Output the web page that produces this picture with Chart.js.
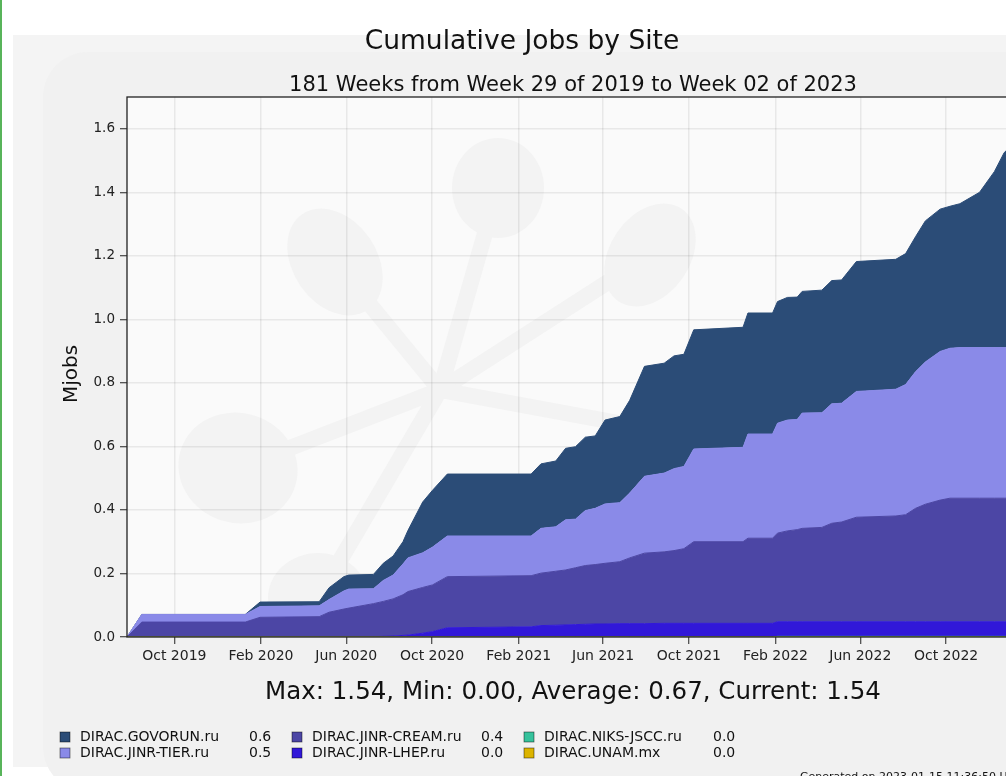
<!DOCTYPE html>
<html>
<head>
<meta charset="utf-8">
<title>Cumulative Jobs by Site</title>
<script src="https://cdn.jsdelivr.net/npm/chart.js@4.4.0/dist/chart.umd.min.js"></script>
<style>
  html, body { margin: 0; padding: 0; overflow: hidden; background: #fff; }
  #wrap { position: relative; width: 1040px; height: 776px; }
</style>
</head>
<body>
<div id="wrap"><canvas id="jobsChart" width="1040" height="776"></canvas></div>
<script>
// week index since start (week 29 of 2019)
const weeks = [0, 3, 24, 27, 39, 41, 44, 45, 50, 52, 54, 56, 57, 60, 62, 65, 82, 84, 87, 89,
  91, 93, 95, 97, 100, 102, 105, 109, 111, 113, 115, 125, 126, 131, 132, 134, 136, 137, 141, 143,
  145, 148, 156, 158, 160, 162, 165, 167, 169, 173, 176, 178, 179];

// cumulative Mjobs per site
const govorun = [0, 0, 0, .014, .013, .037, .045, .044, .045, .054, .060, .070, .086, .160, .179, .195, .195, .203, .207, .225,
  .228, .231, .228, .264, .271, .292, .346, .346, .355, .353, .375, .378, .381, .381, .383, .386, .385, .383, .386, .388,
  .388, .409, .409, .412, .425, .444, .448, .447, .453, .489, .554, .614, .629];
const jinrTier = [0, .024, .024, .034, .034, .040, .057, .060, .047, .066, .075, .097, .106, .109, .119, .128, .125, .141, .140, .158,
  .153, .173, .177, .187, .186, .204, .242, .248, .258, .259, .292, .297, .328, .328, .346, .349, .347, .363, .361, .376,
  .374, .396, .399, .410, .430, .448, .468, .472, .474, .474, .474, .474, .474];
const jinrCream = [0, .047, .047, .062, .064, .078, .088, .091, .104, .110, .117, .128, .137, .144, .147, .161, .161, .165, .170, .173,
  .179, .185, .187, .191, .195, .207, .222, .225, .229, .235, .257, .257, .268, .268, .279, .286, .290, .294, .297, .310,
  .314, .329, .333, .337, .357, .370, .383, .389, .389, .389, .389, .389, .389];
const jinrLhep = [0, 0, 0, 0, 0, 0, 0, 0, .001, .002, .003, .005, .006, .012, .017, .029, .032, .036, .037, .038,
  .039, .040, .041, .041, .042, .042, .042, .043, .043, .043, .043, .043, .043, .043, .046, .046, .046, .046, .046, .046,
  .046, .046, .046, .046, .046, .046, .046, .046, .046, .046, .046, .046, .046];
const niksJscc = [0, 0, 0, 0, 0, 0, 0, 0, 0, 0, 0, 0, 0, 0, 0, 0, 0, 0, 0, 0,
  0, 0, 0, 0, 0, 0, 0, 0, 0, 0, 0, 0, 0, 0, .002, .002, .002, .002, .002, .002,
  .002, .002, .002, .002, .002, .002, .002, .002, .002, .002, .002, .002, .002];
const unam = weeks.map(() => 0);

const tickWeeks = [9.6, 27.2, 44.5, 61.9, 79.5, 96.6, 114.0, 131.6, 148.8, 166.2];
const tickLabels = ['Oct 2019', 'Feb 2020', 'Jun 2020', 'Oct 2020', 'Feb 2021', 'Jun 2021',
  'Oct 2021', 'Feb 2022', 'Jun 2022', 'Oct 2022'];

const statsLine = 'Max: 1.54, Min: 0.00, Average: 0.67, Current: 1.54';

// bottom of the stack first
const sites = [
  { name: 'DIRAC.UNAM.mx', data: unam, color: '#dcb400' },
  { name: 'DIRAC.NIKS-JSCC.ru', data: niksJscc, color: '#36c29c' },
  { name: 'DIRAC.JINR-LHEP.ru', data: jinrLhep, color: '#3118d8' },
  { name: 'DIRAC.JINR-CREAM.ru', data: jinrCream, color: '#4c46a5' },
  { name: 'DIRAC.JINR-TIER.ru', data: jinrTier, color: '#8a8ae8' },
  { name: 'DIRAC.GOVORUN.ru', data: govorun, color: '#2b4c77' }
];

const FONT = "'DejaVu Sans', 'Liberation Sans', sans-serif";

function drawWatermark(ctx, area) {
  ctx.save();
  ctx.beginPath();
  ctx.rect(area.left, area.top, area.right - area.left, area.bottom - area.top);
  ctx.clip();
  ctx.fillStyle = '#f3f3f3';
  ctx.strokeStyle = '#f3f3f3';
  ctx.lineWidth = 16;
  ctx.lineCap = 'round';
  const hub = [440, 390];
  const ends = [[335, 262], [498, 188], [650, 255], [238, 468], [318, 598], [700, 438]];
  ends.forEach(([x, y]) => {
    ctx.beginPath(); ctx.moveTo(hub[0], hub[1]); ctx.lineTo(x, y); ctx.stroke();
  });
  const blobs = [[335, 262, 42, 58, -0.6], [498, 188, 46, 50, 0], [650, 255, 40, 56, 0.6],
    [238, 468, 60, 55, 0.3], [318, 598, 50, 45, 0]];
  blobs.forEach(([x, y, rx, ry, rot]) => {
    ctx.beginPath(); ctx.ellipse(x, y, rx, ry, rot, 0, Math.PI * 2); ctx.fill();
  });
  ctx.restore();
}

const backdrop = {
  id: 'backdrop',
  beforeDraw(chart) {
    const { ctx, chartArea: a } = chart;
    ctx.save();
    ctx.fillStyle = '#ffffff';
    ctx.fillRect(0, 0, chart.width, chart.height);
    ctx.fillStyle = '#f4f4f4';
    ctx.fillRect(13, 35, chart.width - 13, 732);
    ctx.fillStyle = '#f1f1f1';
    ctx.beginPath();
    ctx.roundRect(43, 52, chart.width, 740, 45);
    ctx.fill();
    ctx.fillStyle = '#58b45a';
    ctx.fillRect(0, 0, 2, chart.height);
    ctx.fillStyle = '#fafafa';
    ctx.fillRect(a.left, a.top, a.right - a.left, a.bottom - a.top);
    ctx.restore();
    drawWatermark(ctx, a);
  },
  afterDraw(chart) {
    const { ctx, chartArea: a } = chart;
    ctx.save();
    // frame
    ctx.strokeStyle = '#222';
    ctx.lineWidth = 1.3;
    ctx.strokeRect(a.left, a.top, a.right - a.left, a.bottom - a.top);

    ctx.fillStyle = '#111';
    ctx.textAlign = 'center';
    ctx.textBaseline = 'middle';
    ctx.font = '26.5px ' + FONT;
    ctx.fillText('Cumulative Jobs by Site', 522, 42);
    ctx.font = '21px ' + FONT;
    ctx.fillText('181 Weeks from Week 29 of 2019 to Week 02 of 2023', (a.left + a.right) / 2, 86);
    ctx.font = '24.5px ' + FONT;
    ctx.fillText(statsLine, (a.left + a.right) / 2, 693);

    ctx.save();
    ctx.translate(72, 374);
    ctx.rotate(-Math.PI / 2);
    ctx.font = '20px ' + FONT;
    ctx.fillText('Mjobs', 0, 0);
    ctx.restore();

    // legend, largest site first, column by column
    const order = sites.slice().reverse();
    const colX = [60, 292, 524];
    const rowY = [737, 753];
    ctx.font = '14px ' + FONT;
    ctx.textAlign = 'left';
    order.forEach((s, i) => {
      const x = colX[Math.floor(i / 2)];
      const y = rowY[i % 2];
      ctx.fillStyle = s.color;
      ctx.fillRect(x, y - 5, 10, 10);
      ctx.strokeStyle = 'rgba(0,0,0,0.55)';
      ctx.lineWidth = 0.8;
      ctx.strokeRect(x, y - 5, 10, 10);
      ctx.fillStyle = '#111';
      ctx.fillText(s.name, x + 20, y);
      ctx.fillText(s.data[s.data.length - 1].toFixed(1), x + 189, y);
    });

    ctx.font = '11px ' + FONT;
    ctx.textBaseline = 'alphabetic';
    ctx.fillText('Generated on 2023-01-15 11:36:50 UTC', 800, 780);
    ctx.restore();
  }
};

const gridStyle = {
  color: 'rgba(0,0,0,0.07)',
  lineWidth: 1.5,
  tickColor: '#222',
  tickWidth: 1,
  tickLength: 7
};

new Chart(document.getElementById('jobsChart'), {
  type: 'line',
  data: {
    labels: weeks,
    datasets: sites.map((s, i) => ({
      label: s.name,
      data: s.data,
      backgroundColor: s.color,
      borderColor: s.color,
      borderWidth: 1,
      fill: i === 0 ? 'origin' : '-1',
      pointRadius: 0,
      tension: 0
    }))
  },
  options: {
    responsive: false,
    animation: false,
    events: [],
    layout: { padding: { top: 97, right: 21, bottom: 99, left: 0 } },
    plugins: {
      legend: { display: false },
      title: { display: false },
      tooltip: { enabled: false }
    },
    scales: {
      x: {
        type: 'linear',
        min: 0,
        max: 181,
        z: 1,
        afterBuildTicks: (scale) => { scale.ticks = tickWeeks.map(v => ({ value: v })); },
        afterFit: (scale) => { scale.height = 40; },
        grid: gridStyle,
        border: { display: false },
        ticks: {
          autoSkip: false,
          maxRotation: 0,
          padding: 4,
          color: '#222',
          font: { family: FONT, size: 14 },
          callback: (v, i) => tickLabels[i]
        }
      },
      y: {
        stacked: true,
        min: 0,
        max: 1.7,
        z: 1,
        afterFit: (scale) => { scale.width = 127; },
        grid: gridStyle,
        border: { display: false },
        ticks: {
          stepSize: 0.2,
          includeBounds: false,
          padding: 5,
          color: '#222',
          font: { family: FONT, size: 13.5 },
          callback: (v) => v.toFixed(1)
        }
      }
    }
  },
  plugins: [backdrop]
});
</script>
</body>
</html>
